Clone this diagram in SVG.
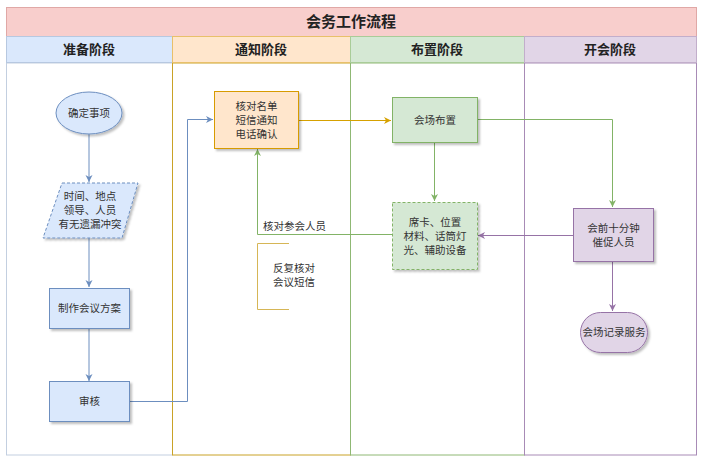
<svg xmlns="http://www.w3.org/2000/svg" width="703" height="463" viewBox="0 0 703 463">
<defs>
<style>
text{font-family:"Noto Sans CJK SC","Noto Sans",sans-serif;fill:#333;}
.t{font-size:10.5px;text-anchor:middle;}
.h{font-size:13px;font-weight:bold;text-anchor:middle;fill:#222;}
.title{font-size:15px;font-weight:bold;text-anchor:middle;fill:#222;}
.blue{fill:#dae8fc;stroke:#6c8ebf;stroke-width:1;}
.orange{fill:#ffe6cc;stroke:#d79b00;stroke-width:1;}
.green{fill:#d5e8d4;stroke:#82b366;stroke-width:1;}
.purple{fill:#e1d5e7;stroke:#9673a6;stroke-width:1;}
.line{fill:none;stroke-width:1;}
</style>
<filter id="sh" x="-20%" y="-20%" width="150%" height="150%">
<feDropShadow dx="2" dy="2" stdDeviation="1" flood-color="#000" flood-opacity="0.25"/>
</filter>
<marker id="ab" markerWidth="8" markerHeight="8" refX="7" refY="4" orient="auto" markerUnits="userSpaceOnUse"><path d="M0,0.5 L7,4 L0,7.5 L2,4 Z" fill="#6c8ebf"/></marker>
<marker id="ao" markerWidth="8" markerHeight="8" refX="7" refY="4" orient="auto" markerUnits="userSpaceOnUse"><path d="M0,0.5 L7,4 L0,7.5 L2,4 Z" fill="#d6a100"/></marker>
<marker id="ag" markerWidth="8" markerHeight="8" refX="7" refY="4" orient="auto" markerUnits="userSpaceOnUse"><path d="M0,0.5 L7,4 L0,7.5 L2,4 Z" fill="#82b366"/></marker>
<marker id="ap" markerWidth="8" markerHeight="8" refX="7" refY="4" orient="auto" markerUnits="userSpaceOnUse"><path d="M0,0.5 L7,4 L0,7.5 L2,4 Z" fill="#9673a6"/></marker>
</defs>
<rect width="703" height="463" fill="#fff"/>

<g id="pool">
<rect x="6.5" y="7.5" width="690" height="29" fill="#f8cecc" stroke="#e0a8a6"/>
<text class="title" x="351" y="27">会务工作流程</text>
</g>
<g id="lane-prep">
<rect x="6.5" y="63" width="166" height="392" fill="#fff" stroke="#c3cfe0"/>
<rect x="6.5" y="36.5" width="166" height="26" fill="#dae8fc" stroke="#b7c8e0"/>
<text class="h" x="89" y="54">准备阶段</text>
</g>
<g id="lane-notify">
<rect x="172.5" y="63" width="178" height="392" fill="#fff" stroke="#c9a227"/>
<rect x="172.5" y="36.5" width="178" height="26" fill="#ffe6cc" stroke="#e8c06a"/>
<text class="h" x="261" y="54">通知阶段</text>
</g>
<g id="lane-setup">
<rect x="350.5" y="63" width="174" height="392" fill="#fff" stroke="#8fb874"/>
<rect x="350.5" y="36.5" width="174" height="26" fill="#d5e8d4" stroke="#a9cc98"/>
<text class="h" x="437" y="54">布置阶段</text>
</g>
<g id="lane-meeting">
<rect x="524.5" y="63" width="172" height="392" fill="#fff" stroke="#a88bb6"/>
<rect x="524.5" y="36.5" width="172" height="26" fill="#e1d5e7" stroke="#c2aecb"/>
<text class="h" x="610" y="54">开会阶段</text>
</g>

<g id="connectors">
<path class="line" d="M89,134 L89,182" stroke="#6c8ebf" marker-end="url(#ab)"/>
<path class="line" d="M89,238 L89,287" stroke="#6c8ebf" marker-end="url(#ab)"/>
<path class="line" d="M89,328 L89,381" stroke="#6c8ebf" marker-end="url(#ab)"/>
<path class="line" d="M129,401.5 L187.5,401.5 L187.5,119.5 L213,119.5" stroke="#6c8ebf" marker-end="url(#ab)"/>
<path class="line" d="M298,120.5 L391,120.5" stroke="#d6a100" marker-end="url(#ao)"/>
<path class="line" d="M434.5,142 L434.5,201" stroke="#82b366" marker-end="url(#ag)"/>
<path class="line" d="M477,119.5 L612.5,119.5 L612.5,207" stroke="#82b366" marker-end="url(#ag)"/>
<path class="line" d="M392,234.5 L257.5,234.5 L257.5,149" stroke="#82b366" marker-end="url(#ag)"/>
<path class="line" d="M573,235.5 L478,235.5" stroke="#9673a6" marker-end="url(#ap)"/>
<path class="line" d="M612.5,261 L612.5,311" stroke="#9673a6" marker-end="url(#ap)"/>
<text x="263" y="230" style="font-size:10.5px">核对参会人员</text>
</g>

<g id="n-confirm">
<ellipse cx="89" cy="113" rx="33" ry="21" class="blue" filter="url(#sh)"/>
<text class="t" x="89" y="117">确定事项</text>
</g>
<g id="n-check-conflict">
<polygon points="62,183 138,183 122,238 43,238" class="blue" stroke-dasharray="3,2" filter="url(#sh)"/>
<text class="t" x="90" y="200">时间、地点</text>
<text class="t" x="90" y="214">领导、人员</text>
<text class="t" x="90" y="228">有无遗漏冲突</text>
</g>
<g id="n-plan">
<rect x="49.5" y="288.5" width="80" height="40" class="blue" filter="url(#sh)"/>
<text class="t" x="89.5" y="312">制作会议方案</text>
</g>
<g id="n-review">
<rect x="49.5" y="381.5" width="80" height="40" class="blue" filter="url(#sh)"/>
<text class="t" x="89.5" y="405">审核</text>
</g>
<g id="n-notify">
<rect x="214.5" y="91.5" width="84" height="57" class="orange" filter="url(#sh)"/>
<text class="t" x="256.5" y="110">核对名单</text>
<text class="t" x="256.5" y="124">短信通知</text>
<text class="t" x="256.5" y="138">电话确认</text>
</g>
<g id="n-annotation">
<path d="M289,243.5 L257.5,243.5 L257.5,309.5 L289,309.5" fill="none" stroke="#d6b656"/>
<text class="t" x="294" y="272">反复核对</text>
<text class="t" x="294" y="286">会议短信</text>
</g>
<g id="n-venue">
<rect x="392.5" y="97.5" width="85" height="45" class="green" filter="url(#sh)"/>
<text class="t" x="435" y="124">会场布置</text>
</g>
<g id="n-materials">
<rect x="392.5" y="202.5" width="85" height="67" class="green" stroke-dasharray="3,2" filter="url(#sh)"/>
<text class="t" x="435" y="226">席卡、位置</text>
<text class="t" x="435" y="240">材料、话筒灯</text>
<text class="t" x="435" y="254">光、辅助设备</text>
</g>
<g id="n-remind">
<rect x="573.5" y="208.5" width="80" height="53" class="purple" filter="url(#sh)"/>
<text class="t" x="613.5" y="232">会前十分钟</text>
<text class="t" x="613.5" y="246">催促人员</text>
</g>
<g id="n-record">
<rect x="580.5" y="312.5" width="67" height="40" rx="20" ry="20" class="purple" filter="url(#sh)"/>
<text class="t" x="614" y="336">会场记录服务</text>
</g>
</svg>
